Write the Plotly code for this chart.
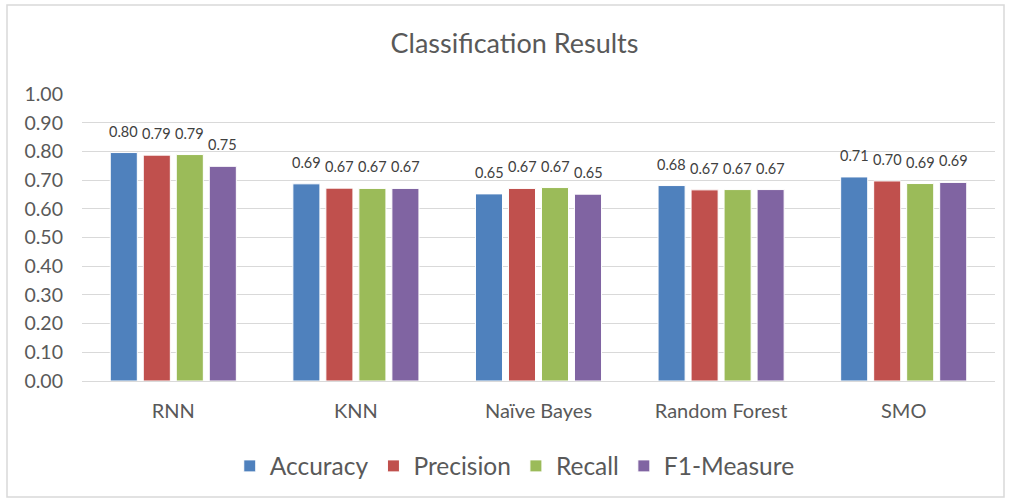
import plotly.graph_objects as go

categories = ["RNN", "KNN", "Naïve Bayes", "Random Forest", "SMO"]
accuracy = [0.796, 0.687, 0.652, 0.681, 0.711]
precision = [0.787, 0.672, 0.671, 0.666, 0.697]
recall = [0.789, 0.671, 0.674, 0.667, 0.688]
f1 = [0.748, 0.671, 0.651, 0.667, 0.692]

series = [("Accuracy", accuracy, "#4F81BD"),
          ("Precision", precision, "#C0504D"),
          ("Recall", recall, "#9BBB59"),
          ("F1-Measure", f1, "#8064A2")]

FONT = "Lato, Open Sans, sans-serif"
fig = go.Figure()
annotations = []
slot = 33.0
for i, (name, vals, col) in enumerate(series):
    fig.add_trace(go.Bar(
        x=categories, y=vals, name=name,
        marker=dict(color=col, line=dict(color="white", width=1)),
    ))
    for c, v in zip(categories, vals):
        annotations.append(dict(
            x=c, y=v, xref="x", yref="y", text=f"{v:.2f}", showarrow=False,
            xshift=(i - 1.5) * slot, yanchor="bottom", yshift=11,
            font=dict(size=14.5, color="#404040", family=FONT)))

fig.update_layout(
    width=1011, height=503,
    margin=dict(l=82, r=16, t=94, b=122),
    paper_bgcolor="white", plot_bgcolor="white",
    barmode="group", bargap=0.277, bargroupgap=0.18,
    title=dict(text="Classification Results", x=(514.5 - 82) / 913, xref="paper",
               xanchor="center", y=1 - 44/503, yanchor="middle",
               font=dict(size=27, color="#595959", family=FONT)),
    font=dict(family=FONT, color="#595959"),
    showlegend=True,
    legend=dict(orientation="h", x=0.474, xanchor="center", y=-0.296, yanchor="middle",
                font=dict(size=24.5, color="#595959", family=FONT),
                itemwidth=30, traceorder="normal"),
    yaxis=dict(range=[0, 1.0], dtick=0.1, tickformat=".2f",
               showgrid=True, gridcolor="#D9D9D9", gridwidth=1,
               zeroline=True, zerolinecolor="#D9D9D9", zerolinewidth=1,
               tickfont=dict(size=19.5, color="#595959"), ticks="",
               ticklabelstandoff=18),
    xaxis=dict(showline=True, linecolor="#D9D9D9", ticks="",
               tickfont=dict(size=20, color="#595959"), ticklabelstandoff=12),
    annotations=annotations,
    shapes=[dict(type="rect", xref="paper", yref="paper",
                 x0=(7-82)/913, x1=(1004-82)/913,
                 y0=(381-497)/287, y1=(381-5)/287,
                 line=dict(color="#D9D9D9", width=1.5), layer="below")],
)

fig.write_html("out.html", config={"displayModeBar": False},
               post_script="document.body.style.margin='0';document.body.style.padding='0';")
